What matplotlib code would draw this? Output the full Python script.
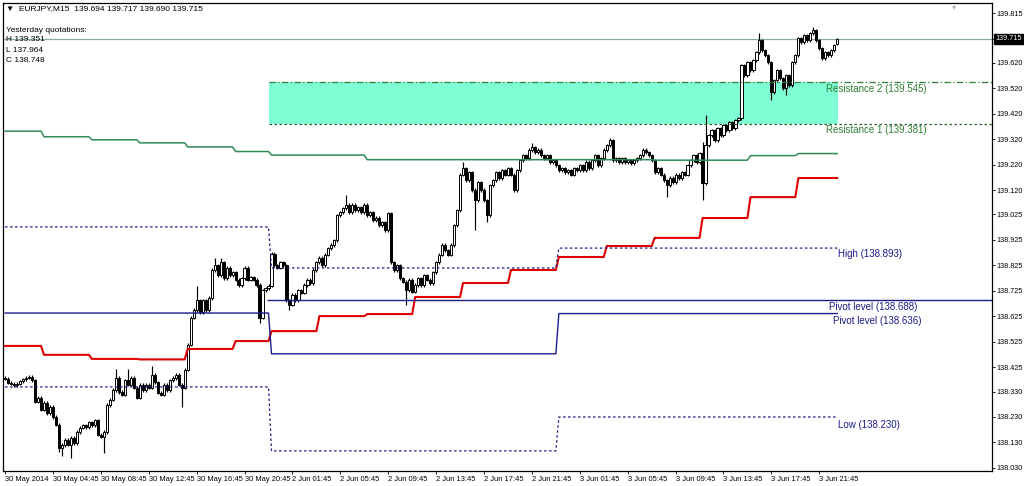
import matplotlib
matplotlib.use("Agg")
import matplotlib.pyplot as plt
from matplotlib.patches import Rectangle
import matplotlib.transforms as mtransforms

# EURJPY M15 closes, bar 0 = 30 May 00:45, bar 89 = 2 Jun 00:00, bar 185 = 3 Jun 00:00
closes = [
    138.380, 138.365, 138.360, 138.355, 138.360, 138.370, 138.378, 138.384, 138.388, 138.375,
    138.290, 138.305, 138.258, 138.285, 138.245, 138.270, 138.230, 138.200, 138.110, 138.120,
    138.140, 138.122, 138.148, 138.128, 138.171, 138.187, 138.198, 138.190, 138.210, 138.198,
    138.218, 138.160, 138.152, 138.171, 138.277, 138.297, 138.336, 138.383, 138.328, 138.317,
    138.375, 138.356, 138.383, 138.344, 138.305, 138.356, 138.336, 138.356, 138.344, 138.395,
    138.367, 138.325, 138.317, 138.356, 138.336, 138.375, 138.383, 138.395, 138.356, 138.344,
    138.415, 138.513, 138.619, 138.650, 138.689, 138.642, 138.689, 138.650, 138.697, 138.807,
    138.826, 138.787, 138.838, 138.775, 138.815, 138.787, 138.799, 138.768, 138.748, 138.775,
    138.815, 138.768, 138.779, 138.768, 138.748, 138.619, 138.728, 138.736, 138.745,
    # 2 Jun
    138.870, 138.826, 138.815, 138.838, 138.826, 138.689, 138.670, 138.709, 138.689, 138.728,
    138.717, 138.748, 138.768, 138.756, 138.807, 138.838, 138.854, 138.826, 138.866, 138.893,
    138.905, 138.924, 139.022, 139.034, 139.050, 139.062, 139.034, 139.062, 139.042, 139.054,
    139.034, 139.062, 139.022, 139.034, 139.003, 139.011, 138.983, 138.995, 138.964, 139.030,
    138.838, 138.807, 138.826, 138.775, 138.760, 138.728, 138.768, 138.721, 138.748, 138.775,
    138.748, 138.787, 138.768, 138.756, 138.799, 138.838, 138.866, 138.905, 138.885, 138.866,
    138.905, 138.983, 139.042, 139.180, 139.207, 139.160, 139.191, 139.121, 139.081, 139.152,
    139.121, 139.081, 139.022, 139.140, 139.160, 139.191, 139.168, 139.199, 139.180, 139.207,
    139.180, 139.121, 139.199, 139.238, 139.258, 139.246, 139.278, 139.289, 139.270, 139.278,
    139.258, 139.246, 139.258, 139.231, 139.238, 139.219,
    # 3 Jun
    139.199, 139.207, 139.191, 139.199, 139.180, 139.207, 139.199, 139.219, 139.199, 139.231,
    139.207, 139.238, 139.258, 139.219, 139.246, 139.278, 139.297, 139.317, 139.238, 139.246,
    139.231, 139.246, 139.231, 139.238, 139.227, 139.238, 139.246, 139.258, 139.278, 139.270,
    139.258, 139.238, 139.191, 139.207, 139.180, 139.160, 139.140, 139.168, 139.152, 139.180,
    139.168, 139.191, 139.180, 139.219, 139.238, 139.258, 139.231, 139.266, 139.148, 139.297,
    139.336, 139.356, 139.317, 139.364, 139.336, 139.375, 139.356, 139.387, 139.364, 139.395,
    139.403, 139.611, 139.572, 139.623, 139.591, 139.631, 139.662, 139.709, 139.670, 139.650,
    139.623, 139.505, 139.552, 139.591, 139.560, 139.521, 139.572, 139.533, 139.623, 139.650,
    139.717, 139.701, 139.729, 139.709, 139.736, 139.748, 139.709, 139.678, 139.639, 139.662,
    139.650, 139.670, 139.690, 139.715,
]
first_open = 138.385
last_open = 139.694
wick = 0.006
high_marks = {37: 138.420, 41: 138.420, 49: 138.430, 64: 138.745, 70: 138.854, 72: 138.854,
              114: 139.101, 153: 139.231, 176: 139.305, 202: 139.325, 233: 139.310,
              234: 139.415, 252: 139.737, 270: 139.760}
low_marks = {18: 138.093, 19: 138.077, 22: 138.070, 33: 138.089, 59: 138.270, 85: 138.599,
             95: 138.650, 134: 138.670, 157: 138.964, 161: 138.995, 221: 139.093,
             233: 139.081, 256: 139.474, 261: 139.493}

# H4 step indicators (start bar, level)
red_start = [0, 13, 29, 45, 61, 77, 89, 105, 121, 137, 153, 169, 185, 201, 217, 233, 249, 265]
red_level = [138.509, 138.474, 138.458, 138.456, 138.497, 138.528, 138.567, 138.626, 138.634,
             138.701, 138.756, 138.807, 138.858, 138.901, 138.933, 139.011, 139.093, 139.168]
green_start = [0, 13, 29, 45, 61, 77, 89, 121, 217, 249, 265]
green_level = [139.352, 139.330, 139.318, 139.306, 139.290, 139.272, 139.258, 139.240,
               139.238, 139.256, 139.264]

# daily pivot levels
day_start = [0, 89, 185]
pivot_lvl = [138.638, 138.478, 138.636]
high_lvl = [138.976, 138.815, 138.893]
low_lvl = [138.348, 138.097, 138.230]

pivot_line = 138.688
res1 = 139.381
res2 = 139.545
price_now = 139.715

y_ticks = [139.815, 139.715, 139.620, 139.520, 139.420, 139.320, 139.220, 139.120, 139.025,
           138.925, 138.825, 138.725, 138.625, 138.525, 138.425, 138.330, 138.230, 138.130,
           138.030]
x_tick_bars = [0, 16, 32, 48, 64, 80, 96, 112, 128, 144, 160, 176, 192, 208, 224, 240, 256, 272]
x_tick_labels = ["30 May 2014", "30 May 04:45", "30 May 08:45", "30 May 12:45", "30 May 16:45",
                 "30 May 20:45", "2 Jun 01:45", "2 Jun 05:45", "2 Jun 09:45", "2 Jun 13:45",
                 "2 Jun 17:45", "2 Jun 21:45", "3 Jun 01:45", "3 Jun 05:45", "3 Jun 09:45",
                 "3 Jun 13:45", "3 Jun 17:45", "3 Jun 21:45"]

n = len(closes)
last = n - 1


def per_bar(starts, levels):
    out = []
    k = 0
    for i in range(n):
        while k + 1 < len(starts) and i >= starts[k + 1]:
            k += 1
        out.append(levels[k])
    return out


opens = [first_open] + closes[:-1]
opens[-1] = last_open
highs = [high_marks.get(i, max(o, c) + wick) for i, (o, c) in enumerate(zip(opens, closes))]
lows = [low_marks.get(i, min(o, c) - wick) for i, (o, c) in enumerate(zip(opens, closes))]
highs[-1] = 139.717
lows[-1] = 139.690

plt.rcParams['font.family'] = ['Liberation Sans', 'DejaVu Sans']
fig = plt.figure(figsize=(10.24, 4.86), dpi=100)
ax = fig.add_axes([3 / 1024, 15 / 486, 989 / 1024, 468 / 486])
x_max = 329.7
ax.set_xlim(-0.7, x_max)
ax.set_ylim(138.018, 139.855)

# resistance zone
ax.add_patch(Rectangle((88.3, res1), last + 0.3 - 88.3, res2 - res1,
                       facecolor='#7fffd4', edgecolor='none', zorder=1))

# candles
xs = list(range(n))
ax.vlines(xs, lows, highs, color='black', lw=0.85, zorder=3)
bottoms = [min(o, c) for o, c in zip(opens, closes)]
heights = [max(abs(c - o), 0.002) for o, c in zip(opens, closes)]
faces = ['white' if c >= o else 'black' for o, c in zip(opens, closes)]
ax.bar(xs, heights, bottom=bottoms, width=0.72, color=faces, edgecolor='black',
       linewidth=0.7, zorder=4)

# current price line
ax.axhline(price_now, color='#8fa8a8', lw=0.9, zorder=2)

# indicator steps
ax.plot(xs, per_bar(green_start, green_level), color='#2e8b57', lw=1.1, zorder=5)
ax.plot(xs, per_bar(red_start, red_level), color='#e00000', lw=1.5, zorder=5)

# daily pivot / high / low
ax.plot(xs, per_bar(day_start, pivot_lvl), color='#1c1c88', lw=1.0, zorder=5)
ax.plot(xs, per_bar(day_start, high_lvl), color='#1c1c88', lw=0.9, ls=(0, (2, 2)), zorder=5)
ax.plot(xs, per_bar(day_start, low_lvl), color='#1c1c88', lw=0.9, ls=(0, (2, 2)), zorder=5)
ax.hlines(pivot_line, 87.5, x_max, color='#1c1c88', lw=1.0, zorder=5)
ax.hlines(res2, 88.3, x_max, color='#2e7d32', lw=0.9, ls=(0, (5, 2, 1, 2)), zorder=5)
ax.hlines(res1, 88.3, x_max, color='#2e5e2e', lw=0.9, ls=(0, (2, 2)), zorder=5)

lab = dict(fontsize=7, va='center', ha='left', zorder=6)
ax.text(274.3, 139.517, "Resistance 2 (139.545)", color='#2e7d32', **lab)
ax.text(274.3, 139.356, "Resistance 1 (139.381)", color='#2e7d32', **lab)
ax.text(278.3, 138.870, "High (138.893)", color='#1c1c88', **lab)
ax.text(275.3, 138.662, "Pivot level (138.688)", color='#1c1c88', **lab)
ax.text(276.7, 138.607, "Pivot level (138.636)", color='#1c1c88', **lab)
ax.text(278.3, 138.199, "Low (138.230)", color='#1c1c88', **lab)

# header texts
hdr = dict(fontsize=6, va='center', ha='left', transform=ax.transAxes, color='black')
ax.text(0.003, 0.988, "\u25bc  EURJPY,M15  139.694 139.717 139.690 139.715", **hdr)
ax.text(0.003, 0.942, "Yesterday quotations:", **hdr)
ax.text(0.003, 0.921, "H 139.351", **hdr)
ax.text(0.003, 0.899, "L 137.964", **hdr)
ax.text(0.003, 0.878, "C 138.748", **hdr)
ax.text(0.962, 0.993, "\u25be", fontsize=6, color='#b0b0b0', ha='center', va='center',
        transform=ax.transAxes, family='DejaVu Sans')

# axes
ax.yaxis.tick_right()
ax.set_yticks(y_ticks)
ax.set_yticklabels(["%.3f" % v for v in y_ticks])
ax.set_xticks(x_tick_bars)
ax.set_xticklabels(x_tick_labels, ha='left')
ax.tick_params(axis='y', labelsize=5.2, length=2, width=0.6, pad=1.5, direction='out')
ax.tick_params(axis='x', labelsize=5.4, length=2, width=0.6, pad=1.5, direction='out')
for s in ax.spines.values():
    s.set_linewidth(0.9)

trans = mtransforms.blended_transform_factory(ax.transAxes, ax.transData)
ax.text(1.0035, price_now, "139.715", transform=trans, fontsize=5.2, color='white',
        va='center', ha='left', zorder=10,
        bbox=dict(boxstyle='square,pad=0.2', facecolor='black', edgecolor='black'))

fig.savefig("out.png", dpi=100, facecolor='white')
